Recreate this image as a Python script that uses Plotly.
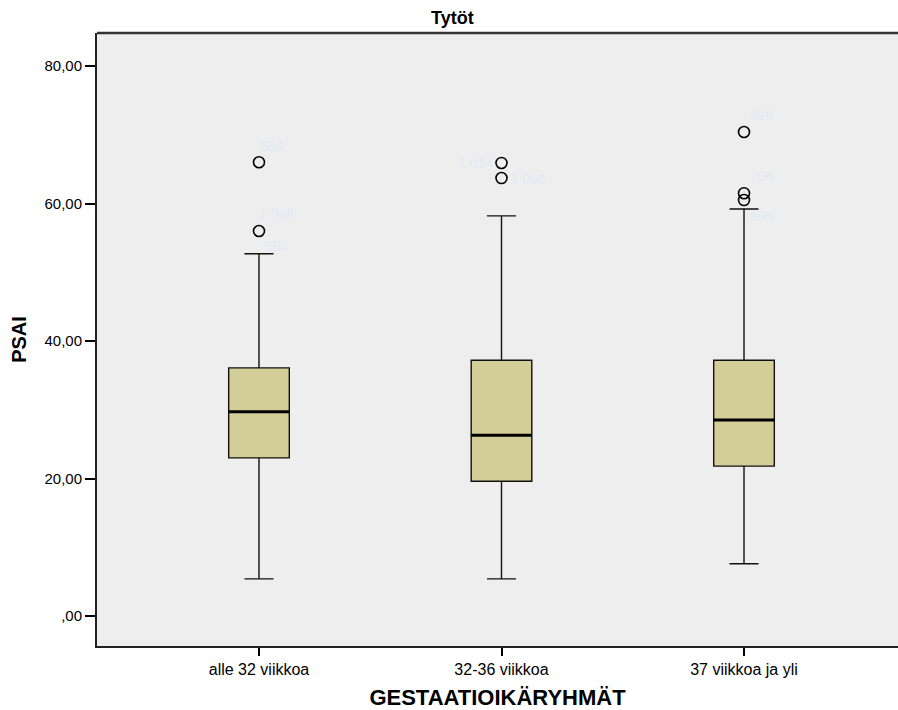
import plotly.graph_objects as go

# Age groups and PSAI box statistics
groups = ["alle 32 viikkoa", "32-36 viikkoa", "37 viikkoa ja yli"]
lower_whisker = [5.4, 5.4, 7.6]
q1 = [23.0, 19.6, 21.8]
median = [29.7, 26.3, 28.5]
q3 = [36.1, 37.2, 37.2]
upper_whisker = [52.7, 58.2, 59.2]

# Outlying cases: group index, PSAI value, case number
outlier_group = [0, 0, 1, 1, 2, 2, 2]
outlier_value = [66.0, 56.0, 65.9, 63.7, 70.4, 61.5, 60.5]

case_group = [0, 0, 0, 1, 1, 2, 2, 2]
case_value = [66.0, 56.0, 56.0, 65.9, 63.7, 70.4, 61.5, 60.5]
case_label = ["584", "1 048", "590", "1 014", "1 060", "828", "796", "995"]

y_tickvals = [0, 20, 40, 60, 80]
y_ticktext = [",00", "20,00", "40,00", "60,00", "80,00"]

FONT = "Liberation Sans, Arial, sans-serif"
BOX_W = 0.25

fig = go.Figure()

fig.add_trace(go.Box(
    x=list(range(len(groups))),
    q1=q1, median=median, q3=q3,
    lowerfence=lower_whisker, upperfence=upper_whisker,
    width=BOX_W,
    whiskerwidth=0.48,
    fillcolor="#d3ce98",
    line=dict(color="#111111", width=1.4),
    boxpoints=False,
    hoverinfo="skip",
    showlegend=False,
))

# Heavier median lines
for i, m in enumerate(median):
    fig.add_trace(go.Scatter(
        x=[i - BOX_W / 2, i + BOX_W / 2], y=[m, m],
        mode="lines", line=dict(color="#000000", width=3),
        hoverinfo="skip", showlegend=False,
    ))

fig.add_trace(go.Scatter(
    x=outlier_group, y=outlier_value, mode="markers",
    marker=dict(symbol="circle-open", size=11, color="#000000",
                line=dict(width=1.6, color="#000000")),
    hoverinfo="skip", showlegend=False,
))

# Case number labels beside the outliers (pixel offsets)
label_shift = [(13, 16), (18, 18), (18, -15), (-26, 0), (26, -1),
               (18, 17), (18, 17), (18, -16)]
for g, v, t, (dx, dy) in zip(case_group, case_value, case_label, label_shift):
    fig.add_annotation(
        x=g, y=v, text=t, showarrow=False, xshift=dx, yshift=dy,
        font=dict(family=FONT, size=14, color="#e3eaf5"),
    )

fig.add_annotation(
    text="<b>Tytöt</b>", xref="paper", yref="paper",
    x=(452 - 97) / 801, y=1, yanchor="bottom", yshift=3, showarrow=False,
    font=dict(family=FONT, size=18, color="#000000"),
)

# Plot area is open on the right: mask the right edge, then draw the top frame
fig.add_shape(type="line", xref="paper", yref="paper",
              x0=1, x1=1, y0=0.004, y1=0.996, layer="above",
              line=dict(color="#eeeeee", width=4))
fig.add_shape(type="line", xref="paper", yref="paper",
              x0=0, x1=1, y0=1, y1=1, layer="above",
              line=dict(color="#333333", width=2.5))

fig.update_layout(
    width=898, height=710,
    margin=dict(l=97, r=0, t=33, b=64),
    paper_bgcolor="#ffffff",
    plot_bgcolor="#eeeeee",
    font=dict(family=FONT, size=13, color="#000000"),
    xaxis=dict(
        range=[-0.668, 2.635],
        tickvals=list(range(len(groups))), ticktext=groups,
        ticks="outside", ticklen=8, tickwidth=1.5, tickcolor="#000000",
        showline=True, linecolor="#222222", linewidth=2,
        showgrid=False, zeroline=False,
        title=dict(text="<b>GESTAATIOIKÄRYHMÄT</b>", font=dict(size=22), standoff=14),
        tickfont=dict(size=16),
    ),
    yaxis=dict(
        range=[-4.36, 84.8],
        tickvals=y_tickvals, ticktext=y_ticktext,
        ticks="outside", ticklen=10, tickwidth=1.5, tickcolor="#000000",
        showline=True, linecolor="#222222", linewidth=2,
        showgrid=False, zeroline=False,
        title=dict(text="<b>PSAI</b>", font=dict(size=20), standoff=12),
        tickfont=dict(size=15),
    ),
)

fig.write_html("out.html", config={"displayModeBar": False})
